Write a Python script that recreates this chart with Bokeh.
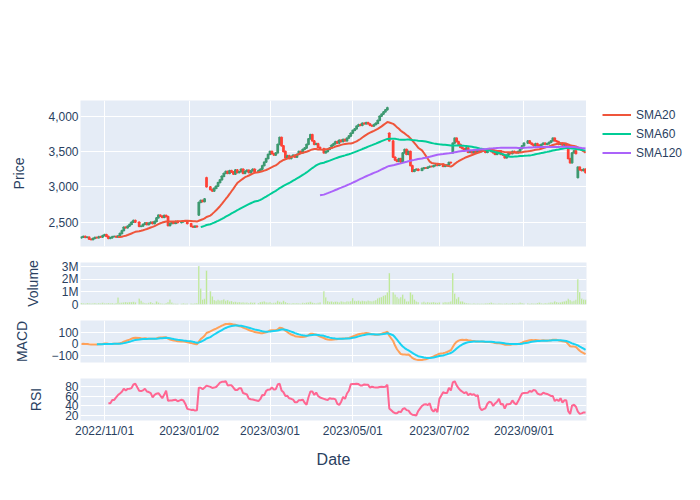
import numpy as np
import pandas as pd
from bokeh.plotting import figure
from bokeh.layouts import column, row
from bokeh.models import (ColumnDataSource, Range1d, FixedTicker, NumeralTickFormatter,
                          Legend, LegendItem)
from bokeh.embed import file_html
from bokeh.resources import INLINE

# ---------------- data ----------------
start_date = "2022-10-14"
end_date = "2023-10-17"
market_holidays = ["2022-11-24", "2022-12-26", "2023-01-02", "2023-01-16", "2023-02-20",
                   "2023-04-07", "2023-05-29", "2023-06-19", "2023-07-04", "2023-09-04"]

first_open = 2280
gap_open = {"2023-01-09": 2600, "2023-01-13": 3130, "2023-05-26": 3760,
            "2023-07-12": 3480, "2023-10-11": 3130}

close = [
    2290,
    2300, 2285, 2290, 2260, 2255,
    2270, 2285, 2280, 2295, 2290,
    2310, 2325, 2300, 2270, 2280,
    2295, 2300, 2290, 2305, 2340,
    2380, 2430, 2420, 2445, 2470,
    2500, 2525, 2500, 2440,
    2445, 2470, 2490, 2465, 2485,
    2500, 2480, 2510, 2560, 2600,
    2585, 2570, 2595, 2580, 2450,
    2480, 2500, 2485, 2510, 2495,
    2505, 2520, 2515, 2480,
    2440, 2430, 2445, 2435,
    2780, 2810, 2790, 2830, 3000,
    2960, 2940, 2980, 3010,
    3060, 3100, 3150, 3190, 3220,
    3190, 3230, 3210, 3180, 3240,
    3200, 3215, 3250, 3190, 3220,
    3235, 3200, 3225, 3250, 3210,
    3230, 3250, 3300, 3350,
    3400, 3460, 3500, 3470, 3450,
    3480, 3600, 3700, 3580, 3500,
    3410, 3440, 3400, 3430, 3450,
    3420, 3460, 3500, 3480, 3530,
    3550, 3600, 3680, 3740, 3650,
    3600, 3610, 3560, 3540,
    3480, 3500, 3530, 3550, 3590,
    3610, 3640, 3620, 3660, 3640,
    3670, 3650, 3690, 3720, 3760,
    3800, 3820, 3860, 3880, 3870,
    3900, 3890, 3910, 3890, 3870,
    3860, 3880, 3900, 3940, 4000,
    4030, 4060, 4090, 4120, 3650,
    3420, 3380, 3360, 3400,
    3350, 3480, 3530, 3460, 3500,
    3300, 3220, 3240, 3250, 3235,
    3260, 3270, 3265, 3280,
    3290, 3285, 3300, 3310, 3305,
    3320, 3290, 3300, 3310,
    3345, 3340, 3620, 3690, 3640,
    3600, 3560, 3540, 3520, 3550,
    3490, 3500, 3480, 3510, 3490,
    3520, 3500, 3530, 3510, 3490,
    3520, 3530, 3500, 3480, 3460,
    3490, 3510, 3460, 3450, 3410,
    3450, 3480, 3470, 3500, 3490,
    3480, 3500, 3540, 3580, 3620,
    3650, 3620, 3600, 3580,
    3610, 3590, 3570, 3600, 3620,
    3600, 3610, 3630, 3650, 3690,
    3650, 3640, 3600, 3620, 3590,
    3600, 3580, 3400, 3340, 3480,
    3510, 3470, 3280, 3240, 3230,
    3250, 3200,
]

volume_m = [
    0.12,
    0.10, 0.08, 0.12, 0.09, 0.07,
    0.10, 0.12, 0.08, 0.11, 0.09,
    0.13, 0.10, 0.09, 0.12, 0.10,
    0.11, 0.08, 0.12, 0.55, 0.14,
    0.16, 0.18, 0.20, 0.17, 0.19,
    0.20, 0.22, 0.18, 0.47,
    0.30, 0.15, 0.12, 0.10, 0.14,
    0.20, 0.12, 0.08, 0.25, 0.15,
    0.10, 0.08, 0.06, 0.12, 0.20,
    0.40, 0.15, 0.08, 0.05, 0.06,
    0.05, 0.10, 0.06, 0.08,
    0.07, 0.06, 0.09, 0.12,
    3.05, 1.26, 0.40, 0.45, 2.70,
    1.05, 0.65, 0.35, 0.30,
    0.38, 0.32, 0.35, 0.42, 0.30,
    0.35, 0.25, 0.28, 0.20, 0.22,
    0.18, 0.20, 0.15, 0.17, 0.13,
    0.15, 0.12, 0.18, 0.14, 0.16,
    0.12, 0.20, 0.22, 0.25,
    0.18, 0.15, 0.20, 0.12, 0.14,
    0.16, 0.30, 0.22, 0.18, 0.30,
    0.20, 0.12, 0.10, 0.08, 0.11,
    0.09, 0.12, 0.10, 0.08, 0.13,
    0.12, 0.15, 0.18, 0.22, 0.16,
    0.12, 0.10, 0.14, 0.18,
    1.05, 0.58, 0.28, 0.22, 0.25,
    0.20, 0.24, 0.22, 0.18, 0.25,
    0.22, 0.20, 0.26, 0.23, 0.28,
    0.52, 0.30, 0.28, 0.32, 0.26,
    0.30, 0.27, 0.25, 0.32, 0.28,
    0.26, 0.30, 0.35, 0.50, 0.55,
    0.60, 0.70, 0.75, 0.97, 2.50,
    0.97, 0.80, 0.60, 0.47,
    0.60, 0.80, 0.45, 0.26, 0.26,
    0.97, 0.80, 0.40, 0.25, 0.20,
    0.18, 0.22, 0.16, 0.20,
    0.15, 0.18, 0.20, 0.16, 0.14,
    0.18, 0.15, 0.20, 0.17,
    0.20, 0.25, 2.50, 0.87, 0.45,
    0.60, 0.26, 0.26, 0.15, 0.12,
    0.10, 0.08, 0.06, 0.09, 0.05,
    0.07, 0.05, 0.08, 0.06, 0.09,
    0.10, 0.12, 0.15, 0.10, 0.08,
    0.06, 0.09, 0.07, 0.05, 0.08,
    0.10, 0.06, 0.08, 0.12, 0.09,
    0.07, 0.10, 0.15, 0.12, 0.08,
    0.10, 0.06, 0.09, 0.07,
    0.08, 0.12, 0.15, 0.10, 0.08,
    0.12, 0.09, 0.14, 0.18, 0.15,
    0.26, 0.20, 0.15, 0.18, 0.22,
    0.25, 0.30, 0.45, 0.35, 0.25,
    0.30, 0.38, 2.00, 1.00, 0.47,
    0.40, 0.38,
]

tick_dates = ["2022-11-01", "2023-01-02", "2023-03-01", "2023-05-01", "2023-07-02", "2023-09-01"]
tick_labels = ["2022/11/01", "2023/01/02", "2023/03/01", "2023/05/01", "2023/07/02", "2023/09/01"]

sma_windows = [20, 60, 120]
sma_names = ["SMA20", "SMA60", "SMA120"]

# ---------------- derived ----------------
all_days = pd.bdate_range(start_date, end_date)
trade_days = all_days[~all_days.isin(pd.to_datetime(market_holidays))]
n = min(len(trade_days), len(close), len(volume_m))
trade_days = trade_days[:n]
xpos = np.array([all_days.get_loc(d) for d in trade_days], dtype=float)

c = pd.Series(close[:n], dtype=float)
o = c.shift(1)
o.iloc[0] = first_open
for d, v in gap_open.items():
    ts = pd.Timestamp(d)
    if ts in trade_days:
        o.iloc[trade_days.get_loc(ts)] = v

inc = (c >= o).values
col = np.where(inc, "#3D9970", "#FF4136")
candles = ColumnDataSource(dict(x=xpos, top=np.maximum(o, c), bottom=np.minimum(o, c), color=col))

vol = ColumnDataSource(dict(x=xpos, v=np.array(volume_m[:n]) * 1e6))

smas = [c.rolling(w).mean().values for w in sma_windows]

ema12 = c.ewm(span=12, adjust=False).mean()
ema26 = c.ewm(span=26, adjust=False).mean()
macd = ema12 - ema26
signal = macd.ewm(span=9, adjust=False, min_periods=9).mean()

delta = c.diff()
gain = delta.clip(lower=0).rolling(14).mean()
loss = (-delta.clip(upper=0)).rolling(14).mean()
rsi = 100 - 100 / (1 + gain / loss)

tick_pos = []
for d in tick_dates:
    ts = pd.Timestamp(d)
    tick_pos.append(float(np.searchsorted(all_days.values, np.datetime64(ts))))
tick_over = {p: l for p, l in zip(tick_pos, tick_labels)}

# ---------------- styling ----------------
FONT = "Liberation Sans"
TXT = "#2a3f5f"
BG = "#E5ECF6"
LEFT, RIGHT = 80, 106
FW = 506
xr = Range1d(-0.5, len(all_days) - 0.5)


def style_axis(ax):
    ax.axis_line_color = None
    ax.major_tick_line_color = None
    ax.minor_tick_line_color = None
    ax.major_tick_out = 0
    ax.major_tick_in = 0
    ax.minor_tick_out = 0
    ax.minor_tick_in = 0
    ax.major_label_text_font = FONT
    ax.major_label_text_font_size = "12px"
    ax.major_label_text_color = TXT
    ax.axis_label_text_font = FONT
    ax.axis_label_text_font_style = "normal"
    ax.axis_label_text_font_size = "14px"
    ax.axis_label_text_color = TXT


def make_fig(fh, top, bottom, yr, ylabel, right=RIGHT):
    p = figure(frame_width=FW, frame_height=fh, x_range=xr, y_range=yr, output_backend="svg",
               toolbar_location=None, min_border_left=LEFT, min_border_right=right,
               min_border_top=top, min_border_bottom=bottom)
    p.background_fill_color = BG
    p.border_fill_color = "white"
    p.outline_line_color = None
    p.grid.grid_line_color = "white"
    p.grid.grid_line_width = 1
    p.xaxis.ticker = FixedTicker(ticks=tick_pos)
    p.xaxis.major_label_overrides = tick_over
    for ax in p.axis:
        style_axis(ax)
    p.yaxis.major_label_standoff = 2
    p.yaxis.axis_label_standoff = 18
    p.yaxis.axis_label = ylabel
    return p


# Price
p1 = make_fig(146, 100, 8, Range1d(2156, 4222), "Price", right=0)
p1.xaxis.visible = False
p1.yaxis.ticker = FixedTicker(ticks=[2500, 3000, 3500, 4000])
p1.yaxis.formatter = NumeralTickFormatter(format="0,0")
p1.vbar(x="x", width=0.5, top="top", bottom="bottom", source=candles,
        fill_color="color", fill_alpha=0.6, line_color="color", line_width=1.8)
sma_colors = ["#EF553B", "#00CC96", "#AB63FA"]
for s, colr in zip(smas, sma_colors):
    p1.line(xpos, s, line_color=colr, line_width=2)

# legend panel to the right of the price chart (same series, drawn off-range there)
pl = figure(frame_width=RIGHT, frame_height=146, x_range=Range1d(-2, -1), y_range=Range1d(0, 1),
            output_backend="svg", toolbar_location=None, min_border_left=0, min_border_right=0,
            min_border_top=100, min_border_bottom=8)
pl.axis.visible = False
pl.grid.visible = False
pl.outline_line_color = None
pl.background_fill_color = "white"
pl.border_fill_color = "white"
items = []
for name, s, colr in zip(sma_names, smas, sma_colors):
    r = pl.line(xpos, s, line_color=colr, line_width=2)
    items.append(LegendItem(label=name, renderers=[r]))
legend = Legend(items=items, location=(16, 146 - 5 - 57), orientation="vertical",
                glyph_width=29, glyph_height=19, label_height=19, label_standoff=5,
                spacing=0, padding=0, margin=0, border_line_color=None,
                background_fill_alpha=0, label_text_font=FONT,
                label_text_font_size="12px", label_text_color=TXT)
pl.add_layout(legend)

# Volume
p2 = make_fig(42, 8, 8, Range1d(0, 3.33e6), "Volume")
p2.xaxis.visible = False
p2.xgrid.visible = False
p2.yaxis.ticker = FixedTicker(ticks=[0, 1e6, 2e6, 3e6])
p2.yaxis.major_label_overrides = {0: "0", 1e6: "1M", 2e6: "2M", 3e6: "3M"}
p2.vbar(x="x", width=0.8, top="v", bottom=0, source=vol,
        fill_color="#B6E880", line_color=BG, line_width=0.5)

# MACD
p3 = make_fig(42, 8, 8, Range1d(-162, 205), "MACD")
p3.xaxis.visible = False
p3.yaxis.ticker = FixedTicker(ticks=[-100, 0, 100])
p3.yaxis.major_label_overrides = {-100: "\u2212100", 0: "0", 100: "100"}
p3.line(xpos, macd.values, line_color="#FFA15A", line_width=2)
p3.line(xpos, signal.values, line_color="#19D3F3", line_width=2)

# RSI
p4 = make_fig(42, 8, 64, Range1d(9.6, 97), "RSI")
p4.yaxis.ticker = FixedTicker(ticks=[20, 40, 60, 80])
p4.line(xpos, rsi.values, line_color="#FF6692", line_width=2)
p4.xaxis.axis_label = "Date"
p4.xaxis.axis_label_text_font_size = "16px"
p4.xaxis.major_label_standoff = 3
p4.xaxis.axis_label_standoff = 10

layout = column(row(p1, pl, spacing=0), p2, p3, p4, spacing=0)
open("out.html", "w").write(file_html(layout, INLINE))
